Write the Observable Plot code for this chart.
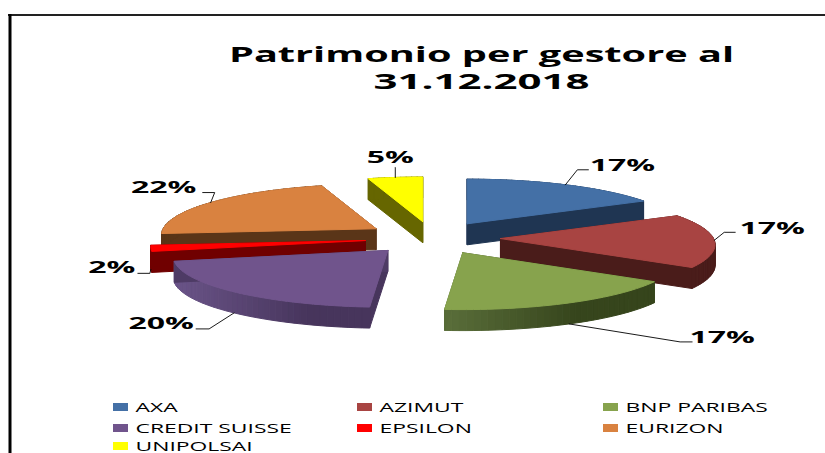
<!DOCTYPE html>
<html><head><meta charset="utf-8">
<script src="https://cdn.jsdelivr.net/npm/d3@7"></script>
<script src="https://cdn.jsdelivr.net/npm/@observablehq/plot@0.6"></script>
<style>html,body{margin:0;padding:0;background:#fff;overflow:hidden}svg{display:block}</style>
</head><body><div id="chart"></div>
<script>
const titleLines = ["Patrimonio per gestore al", "31.12.2018"];
const managers = ["AXA","AZIMUT","BNP PARIBAS","CREDIT SUISSE","EPSILON","EURIZON","UNIPOLSAI"];
const shares = [17,17.1,17.1,20.4,1.9,21.9,4.6];

// styles
const topColors  = ["#4470a6","#a84442","#87a34d","#70548c","#ff0000","#d98240","#ffff00"];
const wallLeft   = ["#1f3552","#4a1c1a","#5a6e3a","#6a5488","#700000","#5a3518","#666600"];
const wallRight  = ["#1f3552","#4a1c1a","#36451c","#47355c","#700000","#5a3518","#666600"];
const paintOrder = [6,0,5,4,3,1,2];

// layout of the tilted, exploded pie
const cx = 432, cy = 237.5, ex = 68, ey = 16.5, rx = 213, ry = 50, persp = 0.12, depth = 21;
const leaderElbow = [[12,-15],[10,-8],[111,18],[-25,16],[-1,4],[4,-10],[0,-10]];
const leaderEnd   = [[23,-15],[21,-8],[123,18],[-38,16],[-13,4],[-8,-10],[0,-10]];
const labelOffset = [[57,-19],[58,-11],[153,14],[-73,11],[-39,-1],[-47,-15],[-5,-20]];
const anchorOnWall = [false,false,true,true,true,false,false];
const legendCols = [113,357,603], legendRows = [411,432,450];
const titleStretch = [1.89, 2.0];

const arcs = d3.pie().sort(null).value(d => d)(shares);
const faces = [], leaders = [], labels = [];
arcs.forEach(a => a.mid = (a.startAngle + a.endAngle) / 2);
const apex = a => [cx + ex * Math.sin(a.mid), cy - ey * Math.cos(a.mid)];
const rimPt = (a, t) => {
  const [ax, ay] = apex(a), X = Math.sin(t), Y = Math.cos(t), s = 1 / (1 + persp * Y);
  return [ax + rx * X * s, ay - ry * Y * s];
};
paintOrder.forEach(i => {
  const a = arcs[i];
  const n = Math.max(2, Math.ceil((a.endAngle - a.startAngle) / 0.03));
  const outline = [apex(a)];
  for (let k = 0; k <= n; k++) outline.push(rimPt(a, a.startAngle + (a.endAngle - a.startAngle) * k / n));
  const xs = outline.map(p => p[0]);
  const x0 = d3.min(xs), x1 = d3.max(xs);
  const mix = d3.interpolateRgb(wallLeft[i], wallRight[i]);
  outline.forEach((p, k) => {
    const q = outline[(k + 1) % outline.length];
    const c = mix(Math.min(1, ((p[0] + q[0]) / 2 - x0) / (x1 - x0) * 1.6));
    const z = `w${i}-${k}`;
    [[p[0],p[1]],[q[0],q[1]],[q[0],q[1]+depth],[p[0],p[1]+depth],[p[0],p[1]]]
      .forEach(([x,y]) => faces.push({x, y, z, c}));
  });
  outline.concat([outline[0]]).forEach(([x,y]) => faces.push({x, y, z:`t${i}`, c:topColors[i]}));
});
arcs.forEach((a, i) => {
  const [px, py0] = rimPt(a, a.mid), py = py0 + (anchorOnWall[i] ? depth : 0);
  [[0,0], leaderElbow[i], leaderEnd[i]].forEach(([dx,dy]) => leaders.push({x:px+dx, y:py+dy, z:i}));
  labels.push({x:px+labelOffset[i][0], y:py+labelOffset[i][1], t:`${Math.round(shares[i])}%`});
});
const legend = managers.map((m, i) => {
  const col = legendCols[i % 3], base = legendRows[Math.floor(i / 3)];
  return {name:m, x1:col, x2:col+15, y1:base-8, y2:base, c:topColors[i], tx:col+22, ty:base};
});

const plot = Plot.plot({
  width: 825, height: 453, margin: 0,
  x: {domain:[0,825], range:[0,825], axis:null},
  y: {domain:[0,453], range:[0,453], axis:null},
  color: {type:"identity"},
  style: {background:"#fff"},
  marks: [
    Plot.ruleY([14.5], {x1:8, x2:825, stroke:"#222", strokeWidth:2}),
    Plot.ruleX([9.5], {y1:14, y2:453, stroke:"#000", strokeWidth:3}),
    Plot.line(faces, {x:"x", y:"y", z:"z", fill:"c", stroke:"c", strokeWidth:1, curve:"linear"}),
    Plot.line(leaders, {x:"x", y:"y", z:"z", stroke:"#000", strokeWidth:0.9, curve:"linear"}),
    Plot.text(labels, {x:"x", y:"y", text:"t", className:"lab", fontFamily:"Open Sans", fontWeight:700, fontSize:16, fill:"#000"}),
    Plot.text(titleLines, {x:()=>481, y:(d,i)=>[61,88][i], text:d=>d, className:"ttl", lineAnchor:"bottom", fontFamily:"Open Sans", fontWeight:700, fontSize:21, fill:"#000"}),
    Plot.rect(legend, {x1:"x1", x2:"x2", y1:"y1", y2:"y2", fill:"c"}),
    Plot.text(legend, {x:"tx", y:"ty", text:"name", className:"leg", textAnchor:"start", lineAnchor:"bottom", fontFamily:"Open Sans", fontSize:13, fill:"#000"})
  ]
});
document.getElementById("chart").append(plot);
const stretch = (sel, f) => plot.querySelectorAll(sel + " text").forEach((t, i) => {
  t.setAttribute("textLength", (t.getComputedTextLength() * (Array.isArray(f) ? f[i] : f)).toFixed(1));
  t.setAttribute("lengthAdjust", "spacingAndGlyphs");
});
stretch(".lab", 2.0); stretch(".ttl", titleStretch); stretch(".leg", 1.76);
</script></body></html>
